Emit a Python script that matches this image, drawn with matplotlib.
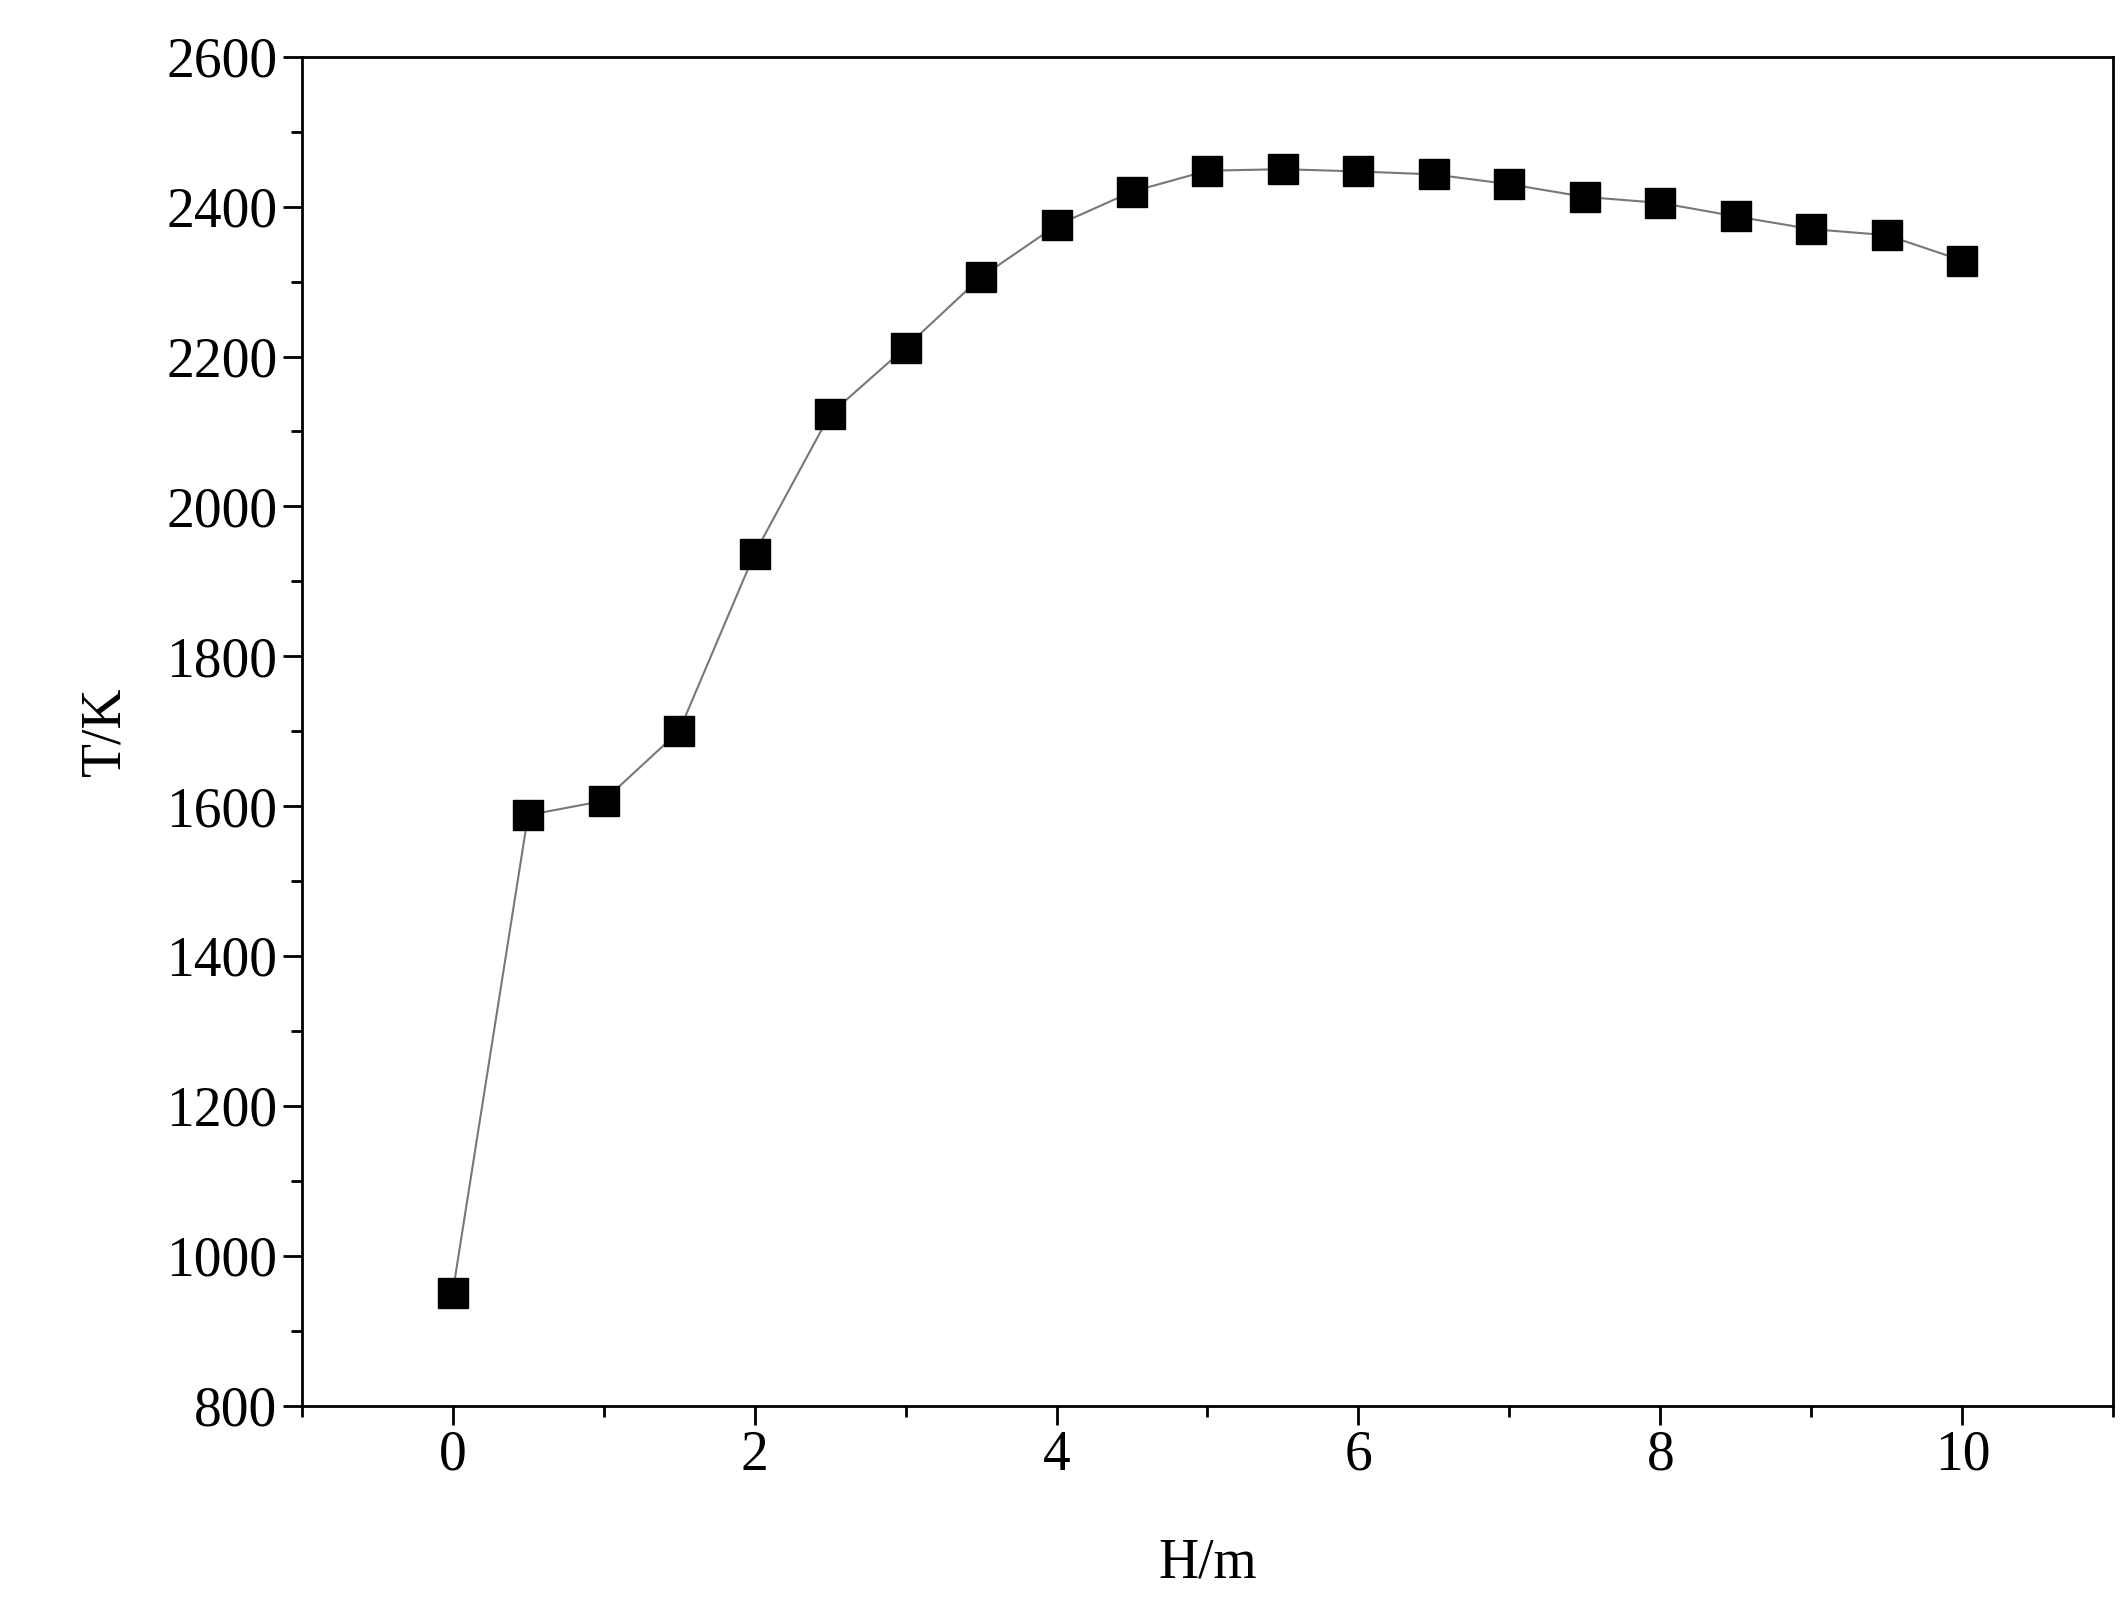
import numpy as np
import matplotlib.pyplot as plt
from matplotlib.ticker import MultipleLocator

# data
H = [0, 0.5, 1, 1.5, 2, 2.5, 3, 3.5, 4, 4.5, 5, 5.5, 6, 6.5, 7, 7.5, 8, 8.5, 9, 9.5, 10]
T = [950, 1588, 1607, 1700, 1937, 2123, 2212, 2306, 2375, 2420, 2448, 2450, 2447,
     2443, 2430, 2413, 2405, 2387, 2370, 2362, 2328]

plt.rcParams['font.family'] = ['Liberation Serif', 'DejaVu Serif']

fig = plt.figure(figsize=(21.24, 16.23), dpi=100)
ax = fig.add_axes([0.142, 0.134, 0.853, 0.831])
ax.plot(H, T, color='#777777', lw=1.5, marker='s', ms=22, mfc='black', mec='black')

ax.set_xlim(-1, 11)
ax.set_ylim(800, 2600)
ax.xaxis.set_major_locator(MultipleLocator(2))
ax.xaxis.set_minor_locator(MultipleLocator(1))
ax.yaxis.set_major_locator(MultipleLocator(200))
ax.yaxis.set_minor_locator(MultipleLocator(100))
ax.tick_params(which='both', direction='out', labelsize=40, width=2)
ax.tick_params(which='major', length=14)
ax.tick_params(which='minor', length=8)
for s in ax.spines.values():
    s.set_linewidth(2)
ax.set_xlabel('H/m', fontsize=40, labelpad=40)
ax.set_ylabel('T/K', fontsize=40, labelpad=25)

fig.savefig('out.png', dpi=100)
